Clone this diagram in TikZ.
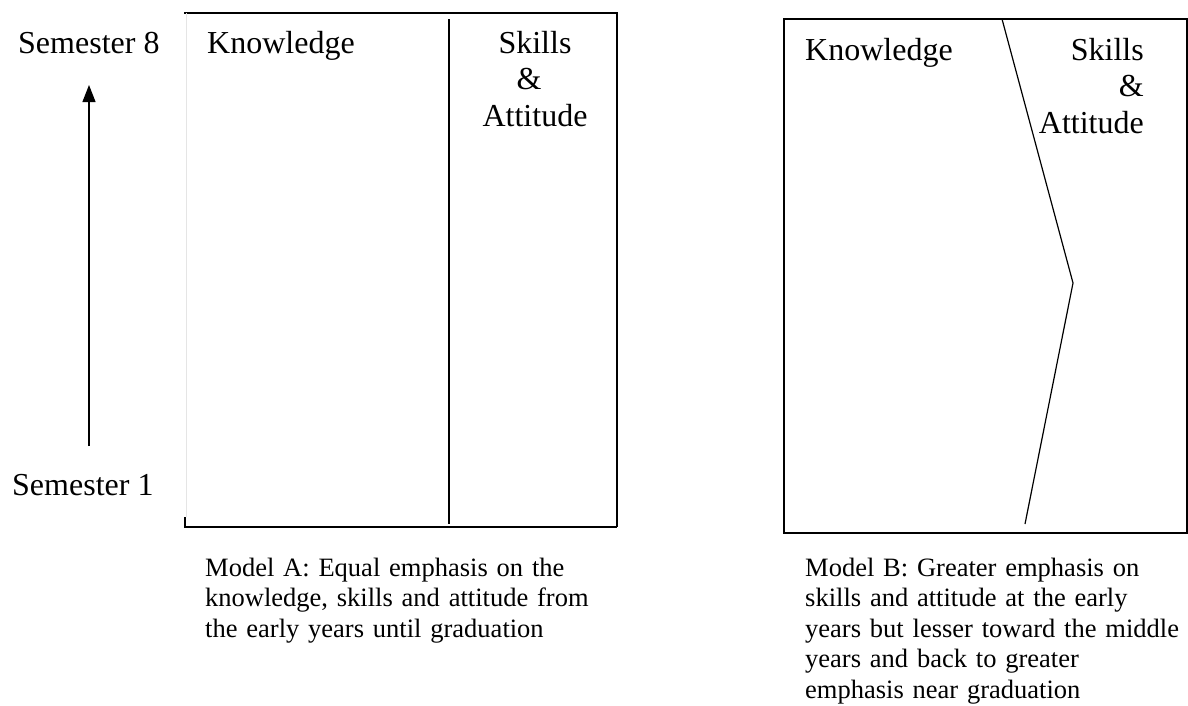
\documentclass[tikz,border=0pt]{standalone}
\usepackage{fontspec}
\setmainfont{Liberation Serif}
\usetikzlibrary{arrows.meta}
\begin{document}
\begin{tikzpicture}[x=1pt,y=-1pt,
  frame/.style={line width=1.3pt},
  divline/.style={line width=1.2pt},
  lab/.style={inner sep=0pt,font=\fontsize{32}{36.8}\selectfont},
  captext/.style={inner sep=0pt,font=\fontsize{26.5}{30.5}\selectfont,align=left,text width=420pt,anchor=base west}]
\useasboundingbox (0,0) rectangle (1188,705);
% ---- Model A box ----
\coordinate (A-tl) at (184,13);
\coordinate (A-tr) at (617,13);
\coordinate (A-tick) at (185,517);
\coordinate (A-bl) at (185,527);
\coordinate (A-br) at (617,527);
\coordinate (A-dt) at (449,19);
\coordinate (A-db) at (449,524);
\draw[frame] (A-tl) -- (A-tr) -- (A-br);
\draw[gray!20,line width=0.8pt] (186,13) -- (186,517);
\draw[frame] (A-tick) -- (A-bl) -- (A-br);
\draw[divline] (A-dt) -- (A-db);
% ---- Semester arrow ----
\coordinate (arr-s) at (89,446);
\coordinate (arr-e) at (89,85);
\draw[divline,-{Triangle[width=13pt,length=17pt]}] (arr-s) -- (arr-e);
\node[lab,anchor=base west] (sem8) at (18,53) {Semester 8};
\node[lab,anchor=base west] (sem1) at (12,495) {Semester 1};
\node[lab,anchor=base west] (A-know) at (207,53) {Knowledge};
\node[lab,align=center,text width=150pt,anchor=base] (A-sa) at (535,53) {Skills\\\hspace*{-12pt}\&\\Attitude};
\node[captext] (A-cap) at (205,576) {Model A: Equal emphasis on the\\knowledge, skills and attitude from\\the early years until graduation};
% ---- Model B box ----
\coordinate (B-tl) at (784,19);
\coordinate (B-br) at (1187,533);
\coordinate (B-z1) at (1002,19);
\coordinate (B-z2) at (1073,283);
\coordinate (B-z3) at (1025,524);
\draw[frame] (B-tl) rectangle (B-br);
\draw[divline] (B-z1) -- (B-z2) -- (B-z3);
\node[lab,anchor=base west] (B-know) at (805,60) {Knowledge};
\node[lab,align=right,text width=150pt,anchor=base east] (B-sa) at (1144,60) {Skills\\\&\\Attitude};
\node[captext] (B-cap) at (805,576) {Model B: Greater emphasis on\\skills and attitude at the early\\years but lesser toward the middle\\years and back to greater\\emphasis near graduation};
\end{tikzpicture}
\end{document}
